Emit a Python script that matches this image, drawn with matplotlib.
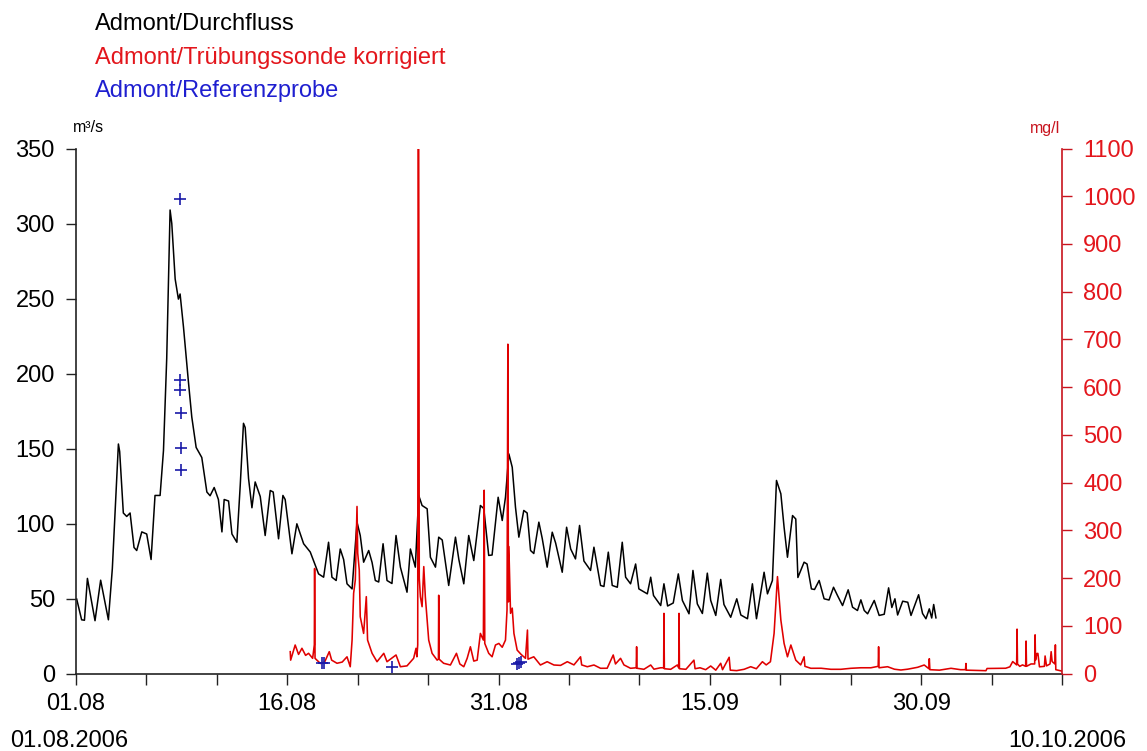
import matplotlib
matplotlib.use("Agg")
import matplotlib.pyplot as plt

plt.rcParams['font.family'] = ['Liberation Sans', 'DejaVu Sans']

# ---- data (x = days since 01.08.2006 00:00) ----
q_days = [0.05, 0.4, 0.6, 0.81, 1.35, 1.75, 2.3, 2.58, 3.01, 3.1, 3.36, 3.6, 3.84, 4.12, 4.31,
          4.67, 5.02, 5.33, 5.61, 5.97, 6.21, 6.44, 6.68, 6.8, 7.04, 7.27, 7.39, 7.63, 7.98,
          8.22, 8.53, 8.93, 9.29, 9.52, 9.81, 10.11, 10.36, 10.52, 10.83, 11.07, 11.42, 11.66,
          11.89, 12.01, 12.25, 12.49, 12.72, 13.08, 13.43, 13.79, 14.0, 14.38, 14.69, 14.85,
          15.33, 15.68, 16.16, 16.63, 17.22, 17.58, 17.93, 18.17, 18.47, 18.76, 19.0, 19.24,
          19.6, 19.95, 20.18, 20.42, 20.78, 21.02, 21.25, 21.49, 21.8, 22.08, 22.43, 22.72,
          23.03, 23.5, 23.74, 24.09, 24.33, 24.57, 24.93, 25.16, 25.52, 25.75, 26.0, 26.46,
          26.94, 27.18, 27.53, 27.88, 28.24, 28.71, 28.95, 29.3, 29.54, 29.97, 30.26, 30.49,
          30.73, 30.97, 31.2, 31.44, 31.79, 32.03, 32.27, 32.5, 32.86, 33.1, 33.45, 33.81,
          34.05, 34.52, 34.83, 35.12, 35.46, 35.75, 36.06, 36.53, 36.77, 37.24, 37.48, 37.79,
          38.07, 38.43, 38.78, 39.02, 39.37, 39.73, 39.96, 40.56, 40.8, 41.0, 41.51, 41.74,
          42.0, 42.4, 42.76, 43.05, 43.52, 43.8, 44.11, 44.47, 44.82, 45.06, 45.42, 45.77,
          46.0, 46.48, 46.91, 47.2, 47.67, 48.02, 48.31, 48.85, 49.09, 49.44, 49.73, 50.04,
          50.27, 50.51, 50.87, 51.1, 51.25, 51.69, 51.9, 52.21, 52.43, 52.76, 53.11, 53.46,
          53.78, 54.06, 54.42, 54.82, 55.13, 55.48, 55.72, 55.96, 56.2, 56.67, 57.02, 57.38,
          57.69, 57.92, 58.14, 58.33, 58.69, 59.05, 59.28, 59.82, 60.1, 60.34, 60.58, 60.75,
          60.89, 61.05]
q_vals = [49.6, 35.8, 35.5, 63.4, 35.2, 62.2, 35.8, 70, 153, 148, 107, 104.7, 107, 84, 82,
          94.4, 93, 76, 118.7, 118.7, 148.6, 210, 309, 300, 263, 249.6, 253, 231, 194.6,
          171, 150.7, 144, 121, 118.5, 124, 116, 94.4, 116, 115, 93, 87.5, 125.5,
          166.8, 164, 130, 110.5, 127.7, 118, 92, 122, 121, 89.8, 118.7, 116,
          79.8, 99.8, 86.5, 81, 66.4, 64.2, 87.5, 64.2, 62, 83, 76, 59.8,
          56.4, 100.9, 92, 74.2, 82, 74, 62, 61, 86.5, 62, 60, 92,
          70.9, 54.2, 83, 70.9, 118.7, 112, 109.8, 77.5, 70.9, 90.9, 89, 58.7,
          90.9, 76, 59.8, 92, 75.3, 112, 110, 78.7, 79, 117.5, 102, 117.5,
          146.4, 137.5, 110.9, 90.9, 108.7, 107, 82, 80, 100.9, 90, 70.9, 94.2,
          87, 67.5, 97.5, 83, 76.4, 98.7, 75, 68.7, 84.2, 58.7, 58, 80.9,
          58.7, 57.5, 87.5, 64.2, 59.8, 73, 56.4, 53.1, 64.2, 52, 45.3, 59.8,
          45, 47, 66.4, 48.7, 39.8, 68.7, 46.4, 40, 66.9, 48.7, 38.7, 62.7,
          46, 37.5, 49.8, 39, 36.5, 59.8, 36.5, 67.5, 53.1, 62, 128.7, 119.8,
          97.5, 77.5, 105.3, 103, 64, 74.2, 73, 56.4, 56, 62, 49.8, 49,
          57.5, 52, 45.3, 55.8, 44.2, 42, 49.1, 42, 39.8, 48.7, 38.7, 39.5,
          57.1, 44, 49.8, 39, 48.2, 47.5, 38.7, 52.5, 40, 36.5, 43.1, 37,
          46, 37.1]

c_days = [15.21, 15.24, 15.56, 15.8, 16.04, 16.3, 16.51, 16.8, 16.92, 16.94, 16.97, 17.35,
          17.65, 17.98, 18.15, 18.53, 18.9, 19.24, 19.47, 19.6, 19.71, 19.83, 19.95, 20.0,
          20.11, 20.18, 20.42, 20.61, 20.7, 21.02, 21.37, 21.85, 22.08, 22.72, 23.03, 23.5,
          23.97, 24.14, 24.2, 24.26, 24.29, 24.33, 24.37, 24.45, 24.57, 24.69, 24.8, 25.04,
          25.28, 25.64, 25.73, 25.75, 25.78, 26.1, 26.58, 27.01, 27.25, 27.53, 27.77, 28.0,
          28.24, 28.48, 28.71, 28.92, 28.98, 29.02, 29.3, 29.54, 29.78, 30.02, 30.26, 30.49,
          30.6, 30.66, 30.7, 30.73, 30.85, 30.97, 31.09, 31.32, 31.6, 31.91, 32.05, 32.09,
          32.5, 32.97, 33.45, 33.93, 34.4, 34.88, 35.35, 35.82, 35.9, 36.3, 36.77, 37.24,
          37.71, 38.14, 38.3, 38.66, 38.9, 39.37, 39.77, 39.8, 39.83, 40.32, 40.8, 41.03,
          41.5, 41.72, 41.74, 41.77, 42.22, 42.69, 42.79, 42.81, 42.84, 43.3, 43.87, 43.95,
          44.3, 44.7, 45.06, 45.42, 45.77, 45.9, 46.37, 46.45, 46.9, 47.43, 47.9, 48.3,
          48.73, 49.0, 49.3, 49.56, 49.8, 50.04, 50.27, 50.51, 50.75, 51.1, 51.45, 51.69,
          51.75, 52.17, 52.9, 53.59, 54.3, 55.01, 55.72, 56.43, 56.95, 56.98, 57.01, 57.62,
          58.1, 58.56, 59.04, 59.75, 60.22, 60.55, 60.58, 60.62, 61.3, 62.12, 62.8, 63.15,
          63.18, 63.21, 64.6, 64.68, 66.0, 66.3, 66.5, 66.78, 66.81, 66.84, 67.0, 67.2,
          67.42, 67.45, 67.48, 67.8, 68.06, 68.09, 68.12, 68.22, 68.29, 68.4, 68.75, 68.8,
          68.9, 69.15, 69.23, 69.3, 69.5, 69.53, 69.56, 70.0]
c_vals = [45.7, 28, 59.7, 40, 52.8, 38, 42.3, 31.8, 60, 220, 31.8, 21,
          24, 45.7, 28, 21.4, 24, 35, 14.2, 70, 168, 196, 350, 252,
          217, 119, 84, 161, 70, 42.3, 24.7, 42.3, 24.7, 38.8, 14.2, 16,
          31.8, 52.8, 35, 60, 1100, 1100, 200, 161, 140, 224, 161, 70,
          42.3, 28, 30, 164, 30, 21.4, 17.8, 42.3, 20, 14.2, 31.8, 56,
          26, 28, 84, 70, 384, 63, 42.3, 35, 59.7, 63, 55, 70,
          133, 690, 150, 266, 126, 137, 84, 49, 40, 31.8, 91, 30,
          35, 17.8, 24.7, 17.8, 17, 24.7, 18, 35, 18, 14.2, 17.8, 10.9,
          11, 38.8, 20, 31.8, 18, 10.9, 12, 56, 11, 8.8, 17.8, 9,
          12, 12, 126, 10, 8.8, 17.8, 12, 126, 10, 8.8, 28, 10,
          12, 8, 15.7, 7, 21.4, 8, 34, 7, 6, 8.8, 14.2, 10,
          24.7, 18, 24.7, 84, 203, 112, 63, 35, 59.7, 28, 18, 35,
          15, 10.9, 11, 8.8, 8.8, 10.9, 12, 12, 15, 56, 12, 14.2,
          9, 7.3, 9, 13, 17.8, 10, 31, 8, 7, 10.9, 8, 8,
          21, 7, 5.9, 10.5, 11, 14, 25, 18, 93, 20, 15, 18,
          15, 68, 15, 20, 20, 81, 28, 42, 42, 14, 15, 36.7,
          16, 20, 45.7, 25, 20, 60, 8, 5]

ref_days = [7.39, 7.41, 7.39, 7.43, 7.43, 7.43, 17.45, 17.6, 22.44, 31.3, 31.45, 31.6]
ref_vals = [994, 615, 594, 546, 473, 427, 21, 23, 13, 20, 22, 24]

x_ticks = [0, 5, 10, 15, 20, 25, 30, 35, 40, 45, 50, 55, 60, 65, 70]
x_labels = ['01.08', '', '', '16.08', '', '', '31.08', '', '', '15.09', '', '', '30.09', '', '']
q_ticks = [0, 50, 100, 150, 200, 250, 300, 350]
c_ticks = [0, 100, 200, 300, 400, 500, 600, 700, 800, 900, 1000, 1100]

# ---- figure ----
W, H = 1147, 751
fig = plt.figure(figsize=(W / 100, H / 100), dpi=100)
L, R, T, B = 76, 1062, 148.5, 673.5
ax = fig.add_axes([L / W, 1 - B / H, (R - L) / W, (B - T) / H])
ax2 = ax.twinx()

RED_LINE = '#e00000'
RED_AX = '#c8141e'
RED_TXT = '#e3161c'
BLUE = '#1a1aa8'

ax.plot(q_days, q_vals, color='black', lw=1.1, zorder=2)
ax2.plot(c_days, c_vals, color=RED_LINE, lw=1.15, zorder=2)
ax2.plot(ref_days, ref_vals, linestyle='none', marker='+', markersize=9,
         markeredgewidth=1.2, color=BLUE, zorder=3)

ax.set_xlim(0, 70)
ax.set_ylim(0, 350)
ax2.set_ylim(0, 1100)
ax.set_xticks(x_ticks)
ax.set_xticklabels(x_labels)
ax.set_yticks(q_ticks)
ax2.set_yticks(c_ticks)

for s in ['top', 'right']:
    ax.spines[s].set_visible(False)
for s in ['top', 'left', 'bottom']:
    ax2.spines[s].set_visible(False)
ax.spines['left'].set_color('#222222')
ax.spines['bottom'].set_color('#222222')
ax2.spines['right'].set_color(RED_AX)
for sp in [ax.spines['left'], ax.spines['bottom'], ax2.spines['right']]:
    sp.set_linewidth(1.2)

ax.tick_params(axis='y', direction='out', length=7.2, width=1.0, labelsize=17, pad=8,
               colors='#222222', labelcolor='black')
ax.tick_params(axis='x', direction='out', length=8, width=1.0, labelsize=17, pad=6,
               colors='#222222', labelcolor='black')
ax2.tick_params(axis='y', direction='out', length=7.2, width=1.0, labelsize=17, pad=8,
                colors=RED_AX, labelcolor=RED_TXT)

ax.set_zorder(1)
ax2.set_zorder(2)
ax.patch.set_visible(False)

def ftext(x, y, s, **kw):
    fig.text(x / W, 1 - y / H, s, **kw)

ftext(95, 30, 'Admont/Durchfluss', color='black', fontsize=17, va='baseline', ha='left')
ftext(95, 64, 'Admont/Trübungssonde korrigiert', color=RED_TXT, fontsize=17, va='baseline', ha='left')
ftext(95, 97, 'Admont/Referenzprobe', color='#1f1fd0', fontsize=17, va='baseline', ha='left')
ftext(73, 132, 'm³/s', color='black', fontsize=11.5, va='baseline', ha='left')
ftext(1060, 133, 'mg/l', color=RED_AX, fontsize=11.5, va='baseline', ha='right')
ftext(10, 747, '01.08.2006', color='black', fontsize=17, va='baseline', ha='left')
ftext(1126, 747, '10.10.2006', color='black', fontsize=17, va='baseline', ha='right')

fig.savefig('out.png', dpi=100)
